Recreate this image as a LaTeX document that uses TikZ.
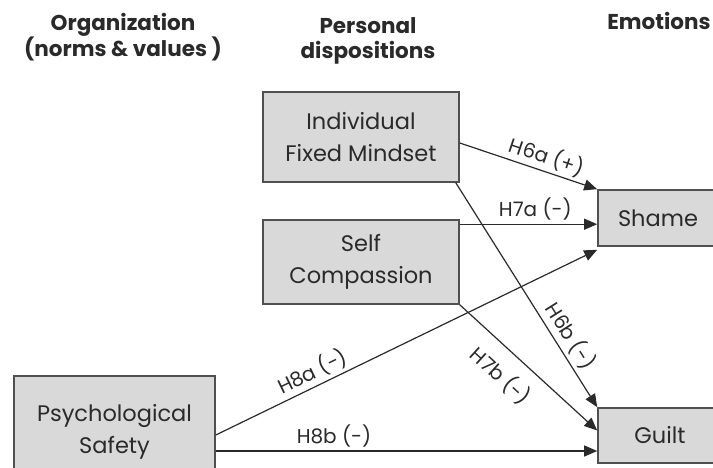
\documentclass[tikz,border=0pt]{standalone}
\usepackage{fontspec}
\setmainfont{Poppins}
\usetikzlibrary{arrows.meta}
\definecolor{boxfill}{HTML}{D9D9D9}
\definecolor{boxline}{HTML}{505050}
\definecolor{ink}{HTML}{2A2A2A}
\begin{document}
\begin{tikzpicture}[x=1pt,y=-1pt,
  factor/.style={draw=boxline, fill=boxfill, line width=1.6pt, text=ink,
    align=center, inner sep=0pt, font=\fontsize{22.5}{32}\selectfont},
  head/.style={text=ink, align=center, inner sep=0pt,
    font=\bfseries\fontsize{21.5}{24.5}\selectfont},
  effect/.style={draw=ink, line width=1.2pt, -{Triangle[length=13pt,width=11pt]}},
  hyp/.style={text=ink, inner sep=2pt, font=\fontsize{20}{22}\selectfont}]
\clip (0,0) rectangle (713,468);
\useasboundingbox (0,0) rectangle (713,468);

% column headings
\node[head] (hOrg) at (123,37) {Organization\\(norms \& values )};
\node[head] (hPers) at (368,41) {Personal\\dispositions};
\node[head] (hEmo) at (659,21) {Emotions};

% factors
\node[factor, minimum width=196pt, minimum height=90pt] (fm) at (361,137) {Individual\\Fixed Mindset};
\node[factor, minimum width=196pt, minimum height=84pt] (sc) at (361,262) {Self\\Compassion};
\node[factor, minimum width=201pt, minimum height=112pt] (ps) at (114.5,432) {Psychological\\Safety};
\node[factor, minimum width=120pt, minimum height=56pt] (sh) at (658,218) {Shame};
\node[factor, minimum width=124pt, minimum height=55pt] (gu) at (660,435.5) {Guilt};

% hypothesised effects
\draw[effect] ([yshift=-6pt]fm.east) -- node[hyp, sloped, above=1pt, pos=0.6] {H6a (+)} (sh.north west);
\draw[effect] ([yshift=-5pt]sc.north east) coordinate (a7) -- node[hyp, above=1pt, pos=0.55] {H7a (-)} (a7 -| sh.west);
\draw[effect] ([yshift=-3pt]ps.east) -- node[hyp, sloped, above=1pt, pos=0.27] {H8a (-)} ([yshift=-3pt]sh.south west);
\draw[effect] ([xshift=-4pt]fm.south east) -- node[hyp, sloped, above=2pt, pos=0.72] {H6b (-)} (gu.north west);
\draw[effect] (sc.south east) -- node[hyp, sloped, below=11pt, pos=0.42] {H7b (-)} ([yshift=5pt]gu.west);
\draw[effect] ([yshift=-19pt]ps.east) coordinate (b8) -- node[hyp, above=1pt, pos=0.31] {H8b (-)} (b8 -| gu.west);
\end{tikzpicture}
\end{document}
